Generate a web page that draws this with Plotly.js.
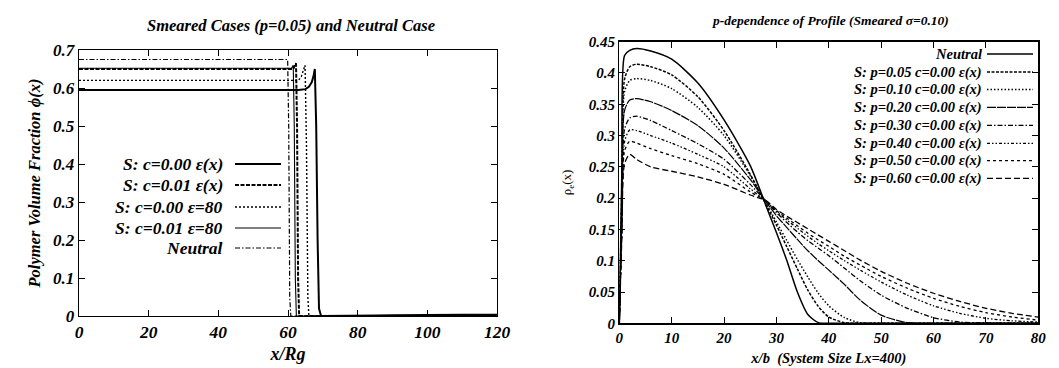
<!DOCTYPE html>
<html>
<head>
<meta charset="utf-8">
<script src="https://cdn.plot.ly/plotly-3.0.1.min.js"></script>
<style>html,body{margin:0;padding:0;background:#fff;}#chart{width:1059px;height:368px;}</style>
</head>
<body>
<div id="chart"></div>
<script>
// ---------- Left panel data: Smeared Cases (p=0.05) and Neutral Case ----------
const leftNames = ["S: c=0.00 \u03b5(x)", "S: c=0.01 \u03b5(x)", "S: c=0.00 \u03b5=80", "S: c=0.01 \u03b5=80", "Neutral"];
const xL_c000ex = [0, 60, 63, 65, 66, 66.8, 67.3, 67.7, 68.1, 68.5, 68.9, 69.5, 80, 85, 90, 100, 110, 120];
const yL_c000ex = [0.595, 0.595, 0.595, 0.597, 0.603, 0.615, 0.63, 0.65, 0.5, 0.2, 0.02, 0, 0, 0.001, 0.002, 0.003, 0.003, 0.003];
const xL_c001ex = [0, 61.5, 62.0, 62.3, 62.6, 62.9, 63.2, 120];
const yL_c001ex = [0.65, 0.65, 0.66, 0.665, 0.5, 0.1, 0, 0];
const xL_c000e80 = [0, 63, 63.8, 64.4, 64.9, 65.3, 65.7, 66.0, 120];
const yL_c000e80 = [0.62, 0.62, 0.63, 0.645, 0.66, 0.45, 0.05, 0, 0];
const xL_c001e80 = [0, 61.0, 61.5, 61.8, 62.1, 62.4, 120];
const yL_c001e80 = [0.652, 0.652, 0.66, 0.5, 0.1, 0, 0];
const xL_neutral = [0, 59.9, 60.2, 60.5, 60.8, 120];
const yL_neutral = [0.675, 0.675, 0.5, 0.05, 0, 0];

// ---------- Right panel data: p-dependence of Profile (Smeared sigma=0.10) ----------
const rightNames = ["Neutral", "S: p=0.05 c=0.00 \u03b5(x)", "S: p=0.10 c=0.00 \u03b5(x)", "S: p=0.20 c=0.00 \u03b5(x)",
                    "S: p=0.30 c=0.00 \u03b5(x)", "S: p=0.40 c=0.00 \u03b5(x)", "S: p=0.50 c=0.00 \u03b5(x)", "S: p=0.60 c=0.00 \u03b5(x)"];
const xR = [0, 0.5, 1, 2, 3.3, 6, 10, 15, 20, 25, 28, 30, 32, 34, 36, 38, 40, 43, 46, 50, 55, 60, 65, 70, 75, 80];
const yR_neutral = [0, 0.25, 0.428, 0.436, 0.439, 0.435, 0.422, 0.384, 0.325, 0.252, 0.188, 0.145, 0.1, 0.05, 0.014, 0.001, 0, 0, 0, 0, 0, 0, 0, 0, 0, 0];
const yR_p005 = [0, 0.22, 0.39, 0.41, 0.414, 0.41, 0.397, 0.362, 0.308, 0.238, 0.19, 0.157, 0.122, 0.087, 0.053, 0.027, 0.01, 0.001, 0, 0, 0, 0, 0, 0, 0, 0];
const yR_p010 = [0, 0.2, 0.37, 0.388, 0.391, 0.388, 0.375, 0.345, 0.3, 0.236, 0.192, 0.162, 0.132, 0.102, 0.074, 0.048, 0.028, 0.009, 0.001, 0, 0, 0, 0, 0, 0, 0];
const yR_p020 = [0, 0.19, 0.34, 0.357, 0.359, 0.354, 0.34, 0.316, 0.28, 0.23, 0.194, 0.172, 0.153, 0.134, 0.116, 0.1, 0.085, 0.062, 0.037, 0.013, 0.001, 0, 0, 0, 0, 0];
const yR_p030 = [0, 0.17, 0.31, 0.328, 0.331, 0.324, 0.308, 0.287, 0.262, 0.222, 0.195, 0.177, 0.161, 0.146, 0.132, 0.12, 0.108, 0.088, 0.068, 0.045, 0.024, 0.009, 0.002, 0.0005, 0, 0];
const yR_p040 = [0, 0.16, 0.29, 0.309, 0.308, 0.3, 0.288, 0.27, 0.25, 0.215, 0.195, 0.179, 0.165, 0.152, 0.139, 0.127, 0.116, 0.1, 0.085, 0.066, 0.045, 0.028, 0.016, 0.008, 0.004, 0.002];
const yR_p050 = [0, 0.15, 0.275, 0.291, 0.288, 0.279, 0.268, 0.255, 0.238, 0.21, 0.196, 0.18, 0.168, 0.156, 0.144, 0.133, 0.123, 0.107, 0.093, 0.075, 0.056, 0.04, 0.027, 0.017, 0.01, 0.005];
const yR_p060 = [0, 0.14, 0.255, 0.27, 0.262, 0.25, 0.243, 0.234, 0.222, 0.205, 0.196, 0.182, 0.171, 0.161, 0.151, 0.141, 0.131, 0.116, 0.101, 0.083, 0.064, 0.048, 0.035, 0.024, 0.016, 0.01];

// ---------- Styles ----------
const FONT = "Liberation Serif, Times New Roman, serif";
const leftStyles = [
  {dash: "solid", width: 2},
  {dash: "4px,1.5px", width: 2},
  {dash: "2px,2px", width: 1.4},
  {dash: "solid", width: 1.1},
  {dash: "5px,2px,1.5px,2px", width: 1.2}
];
const rightStyles = [
  {dash: "solid", width: 1.5},
  {dash: "3px,1.5px", width: 1.5},
  {dash: "1.5px,2px", width: 1.5},
  {dash: "9px,1px", width: 1.2},
  {dash: "5px,2px,1.5px,2px", width: 1.3},
  {dash: "3px,2px,1.5px,2px,1.5px,2px", width: 1.3},
  {dash: "3px,3px", width: 1.3},
  {dash: "6px,3px", width: 1.3}
];

const leftX = [xL_c000ex, xL_c001ex, xL_c000e80, xL_c001e80, xL_neutral];
const leftY = [yL_c000ex, yL_c001ex, yL_c000e80, yL_c001e80, yL_neutral];
const rightY = [yR_neutral, yR_p005, yR_p010, yR_p020, yR_p030, yR_p040, yR_p050, yR_p060];

const traces = [];
leftNames.forEach((n, i) => traces.push({
  x: leftX[i], y: leftY[i], name: n, type: "scatter", mode: "lines",
  xaxis: "x", yaxis: "y", showlegend: false,
  line: {color: "#000", width: leftStyles[i].width, dash: leftStyles[i].dash}
}));
rightNames.forEach((n, i) => traces.push({
  x: xR, y: rightY[i], name: n, type: "scatter", mode: "lines",
  xaxis: "x2", yaxis: "y2", showlegend: false,
  line: {color: "#000", width: rightStyles[i].width, dash: rightStyles[i].dash, shape: "spline", smoothing: 0.7}
}));

// ---------- Manual gnuplot-style legends (text then sample) ----------
const W = 1059, H = 368;
const annotations = [];
const shapes = [];
const BI = (size) => ({family: FONT, size: size, color: "#000", weight: "bold", style: "italic"});
const leftRows = [164, 185, 207, 228, 248];
leftNames.forEach((n, i) => {
  annotations.push({xref: "paper", yref: "paper", x: 225 / W, y: 1 - leftRows[i] / H, xanchor: "right", yanchor: "middle",
    text: n, showarrow: false, font: BI(17.5)});
  shapes.push({type: "line", xref: "paper", yref: "paper", x0: 235 / W, x1: 281 / W, y0: 1 - leftRows[i] / H, y1: 1 - leftRows[i] / H,
    line: {color: "#000", width: leftStyles[i].width, dash: leftStyles[i].dash}});
});
const rightRows = [54, 72, 89.5, 107.3, 125.3, 143.3, 160.7, 178.3];
rightNames.forEach((n, i) => {
  annotations.push({xref: "paper", yref: "paper", x: 984 / W, y: 1 - rightRows[i] / H, xanchor: "right", yanchor: "middle",
    text: n, showarrow: false, font: BI(14.5)});
  shapes.push({type: "line", xref: "paper", yref: "paper", x0: 987 / W, x1: 1033 / W, y0: 1 - rightRows[i] / H, y1: 1 - rightRows[i] / H,
    line: {color: "#000", width: rightStyles[i].width, dash: rightStyles[i].dash}});
});

// Titles
annotations.push({xref: "paper", yref: "paper", x: 291 / W, y: 1 - 25 / H, xanchor: "center", yanchor: "middle", showarrow: false,
  text: "Smeared Cases (p=0.05) and Neutral Case", font: BI(16.5)});
annotations.push({xref: "paper", yref: "paper", x: 830 / W, y: 1 - 20 / H, xanchor: "center", yanchor: "middle", showarrow: false,
  text: "p-dependence of Profile (Smeared \u03c3=0.10)", font: BI(13.5)});

const axBase = {showgrid: false, zeroline: false, showline: true, linecolor: "#000", linewidth: 1.3, mirror: "ticks",
  ticks: "inside", ticklen: 6, tickcolor: "#000", tickwidth: 1};

const layout = {
  width: W, height: H,
  margin: {l: 0, r: 0, t: 0, b: 0},
  paper_bgcolor: "#fff", plot_bgcolor: "#fff",
  showlegend: false,
  xaxis: Object.assign({}, axBase, {domain: [79 / W, 497 / W], range: [0, 120], tickvals: [0, 20, 40, 60, 80, 100, 120],
    tickfont: BI(17.5), anchor: "y",
    title: {text: "x/Rg", standoff: 6, font: BI(18)}}),
  yaxis: Object.assign({}, axBase, {domain: [1 - 316 / H, 1 - 50 / H], range: [0, 0.7], tickvals: [0, 0.1, 0.2, 0.3, 0.4, 0.5, 0.6, 0.7],
    ticktext: ["0", "0.1", "0.2", "0.3", "0.4", "0.5", "0.6", "0.7"], tickfont: BI(17), anchor: "x",
    title: {text: "Polymer Volume Fraction \u03d5(x)", standoff: 8, font: BI(16.5)}}),
  xaxis2: Object.assign({}, axBase, {domain: [619.3 / W, 1038.3 / W], range: [0, 80], tickvals: [0, 10, 20, 30, 40, 50, 60, 70, 80],
    tickfont: BI(15), anchor: "y2",
    title: {text: "x/b  (System Size Lx=400)", standoff: 8, font: BI(14.5)}}),
  yaxis2: Object.assign({}, axBase, {domain: [1 - 323.3 / H, 1 - 41.7 / H], range: [0, 0.45],
    tickvals: [0, 0.05, 0.1, 0.15, 0.2, 0.25, 0.3, 0.35, 0.4, 0.45],
    ticktext: ["0", "0.05", "0.1", "0.15", "0.2", "0.25", "0.3", "0.35", "0.4", "0.45"], tickfont: BI(15), anchor: "x2",
    title: {text: "\u03c1<sub>e</sub>(x)", standoff: 14, font: {family: FONT, size: 13, color: "#000"}}}),
  annotations: annotations,
  shapes: shapes
};

Plotly.newPlot("chart", traces, layout, {staticPlot: true, displayModeBar: false});
</script>
</body>
</html>
